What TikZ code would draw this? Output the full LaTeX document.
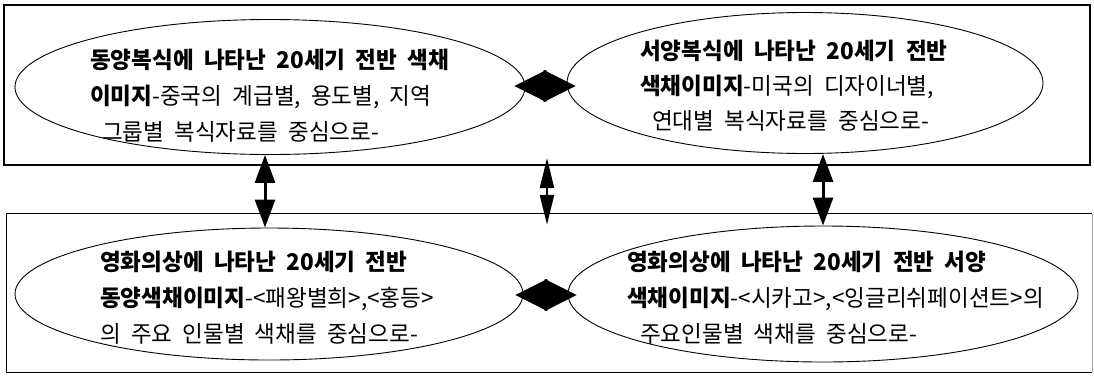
\documentclass[tikz,border=0pt]{standalone}
\usepackage{fontspec}
\setmainfont{Noto Sans CJK KR}[FakeStretch=0.98,WordSpace=2]
\usetikzlibrary{arrows.meta,shapes.geometric,calc}
\newcommand\kb[1]{{\bfseries #1}}
\begin{document}
\begin{tikzpicture}[x=1pt,y=-1pt,
  ell/.style={draw, ellipse, line width=0.9pt, inner sep=0},
  txt/.style={align=left, anchor=north west, inner sep=0, font=\fontsize{23}{36}\selectfont},
  harrow/.style={line width=1pt, {Triangle[length=32pt,width=32pt]}-{Triangle[length=32pt,width=32pt]}},
  varrow/.style={line width=3pt, {Triangle[length=28pt,width=20pt]}-{Triangle[length=28pt,width=20pt]}},
  marrow/.style={line width=2.5pt, {Triangle[length=30pt,width=14pt]}-{Triangle[length=30pt,width=14pt]}}
]
\useasboundingbox (0,0) rectangle (1094,376);
% boxes
\node[draw, line width=2.2pt, minimum width=1086pt, minimum height=160pt, inner sep=0] (topbox) at (547,85) {};
\node[minimum width=1085pt, minimum height=158pt, inner sep=0] (botbox) at (549.5,293) {};
\draw[line width=1pt] (botbox.north east) -- (botbox.north west) -- (botbox.south west) -- (botbox.south east);
\draw[line width=0.8pt, black!35] (botbox.south east) -- (botbox.north east);
% ellipses
\node[ell, minimum width=510pt, minimum height=135pt] (tl) at (270,87) {};
\node[ell, minimum width=476pt, minimum height=141pt] (tr) at (805,83) {};
\node[ell, minimum width=508pt, minimum height=132pt] (bl) at (269,294) {};
\node[ell, minimum width=510pt, minimum height=136pt] (br) at (823,294) {};
% texts
\node[txt] (tltext) at (90,49) {\kb{동양복식에 나타난 20세기 전반 색채}\\\kb{이미지}-중국의 계급별, 용도별, 지역\\\hspace*{12pt}그룹별 복식자료를 중심으로-};
\node[txt, font=\fontsize{23}{35}\selectfont] (trtext) at (640,40) {\kb{서양복식에 나타난 20세기 전반}\\\kb{색채이미지}-미국의 디자이너별,\\\hspace*{12pt}연대별 복식자료를 중심으로-};
\node[txt] (bltext) at (100,251) {\kb{영화의상에 나타난 20세기 전반}\\\kb{동양색채이미지}-<패왕별희>,<홍등>\\의 주요 인물별 색채를 중심으로-};
\node[txt] (brtext) at (627,251) {\kb{영화의상에 나타난 20세기 전반 서양}\\\kb{색채이미지}-<시카고>,<잉글리쉬페이션트>의\\\hspace*{13pt}주요인물별 색채를 중심으로-};
% connectors
\draw[harrow] ($(tl.east)+(-11,-1)$) -- ($(tl.east -| tr.west)+(9,-1)$);
\draw[harrow] ($(bl.east)+(-8,1)$) -- ($(bl.east -| br.west)+(9,1)$);
\draw[varrow] ([xshift=-5pt]tl.south) -- ([xshift=-4pt]bl.north);
\draw[varrow] (br.north |- tr.south) -- (br.north);
\draw[marrow, shorten <=-8pt, shorten >=-11pt] (topbox.south) -- (topbox.south |- botbox.north);
\end{tikzpicture}
\end{document}
